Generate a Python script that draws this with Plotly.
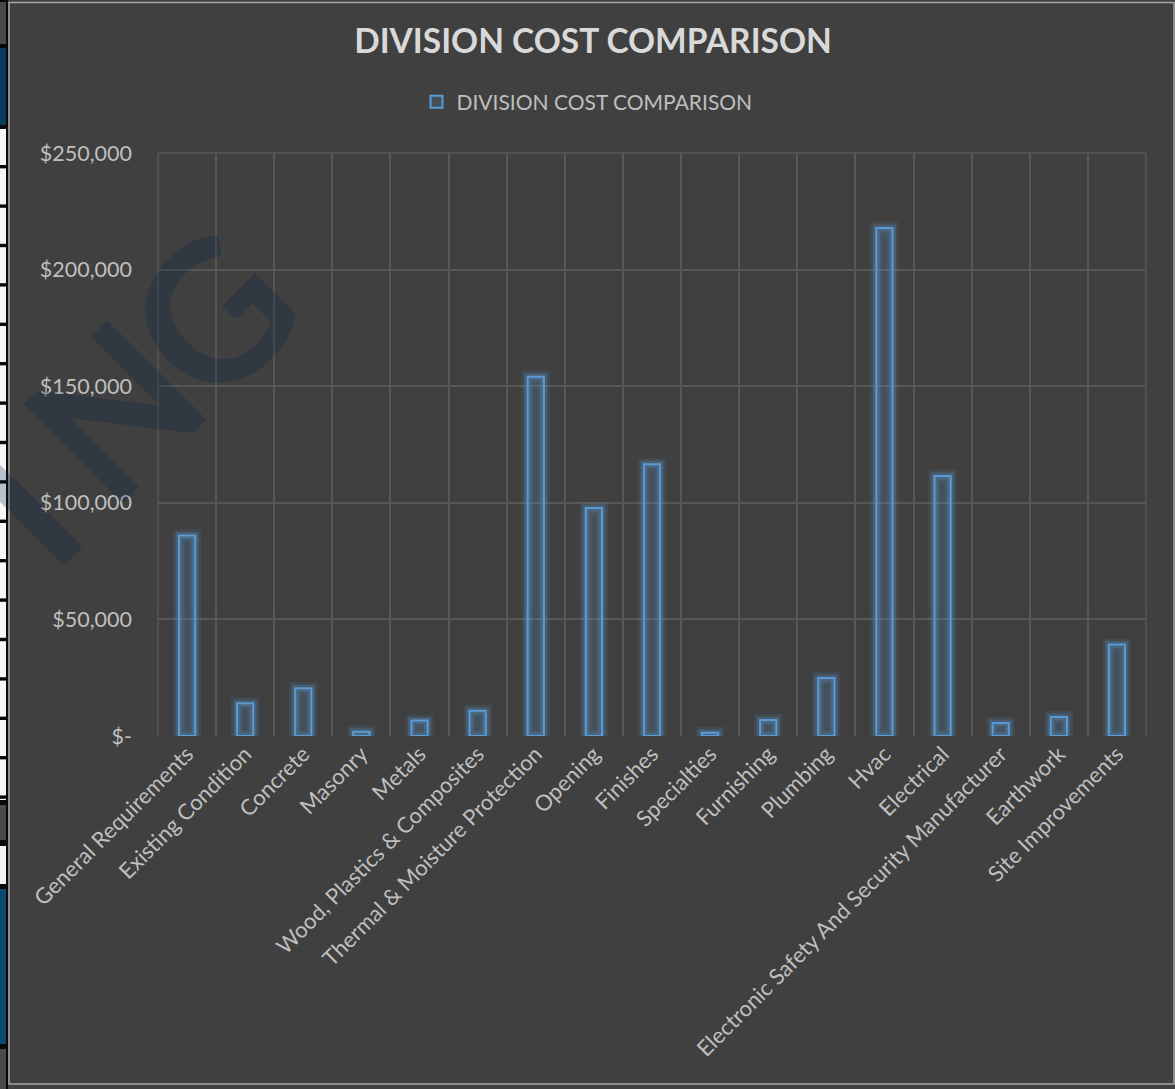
import plotly.graph_objects as go

categories = [
    "General Requirements", "Existing Condition", "Concrete", "Masonry", "Metals",
    "Wood, Plastics & Composites", "Thermal & Moisture Protection", "Opening",
    "Finishes", "Specialties", "Furnishing", "Plumbing", "Hvac", "Electrical",
    "Electronic Safety And Security Manufacturer", "Earthwork", "Site Improvements",
]
costs = [86000, 14000, 20500, 1800, 6600, 10800, 154000, 97800, 116500,
         1400, 6900, 24900, 217800, 111500, 5600, 8200, 39200]
y_tickvals = [0, 50000, 100000, 150000, 200000, 250000]
y_ticktext = ["$-", "$50,000", "$100,000", "$150,000", "$200,000", "$250,000"]
series_name = "DIVISION COST COMPARISON"
watermark_letters = ["I", "N", "G"]

W, H = 1175, 1089
L, R, T, B = 158, 1146, 153, 736

FONT = "Lato"
BLUE = "#5B9BD5"
GRID = "#575757"
BG = "#404040"

fig = go.Figure()
# glow layers
for w, a in [(12, 0.12), (7, 0.24)]:
    fig.add_trace(go.Bar(
        x=categories, y=costs, width=0.28, showlegend=False, hoverinfo="skip",
        marker=dict(color="rgba(91,155,213,0)",
                    line=dict(color=f"rgba(91,155,213,{a})", width=w)),
    ))
fig.add_trace(go.Bar(
    x=categories, y=costs, width=0.28, name=series_name,
    marker=dict(color="rgba(91,155,213,0.18)",
                line=dict(color=BLUE, width=2)),
))

def px_x(p):
    return (p - L) / (R - L)

def px_y(p):
    return (B - p) / (B - T)

n = len(categories)
shapes = []
# left spreadsheet strip
shapes.append(dict(type="rect", xref="paper", yref="paper", x0=px_x(0), x1=px_x(8),
                   y0=px_y(H), y1=px_y(0), fillcolor="#0a0a0a", line=dict(width=0),
                   layer="below"))
strip_cells = [(2, 44, "#4a4a4a"), (48, 125, "#0b3b5c"), (805, 840, "#4a4a4a"),
               (846, 884, "#f2f2f2"), (889, 1044, "#0b4a6e"), (1049, 1089, "#4a4a4a")]
for y0, y1, c in strip_cells:
    shapes.append(dict(type="rect", xref="paper", yref="paper", x0=px_x(0), x1=px_x(6),
                       y0=px_y(y1), y1=px_y(y0), fillcolor=c, line=dict(width=0),
                       layer="below"))
y = 129
while y < 800:
    shapes.append(dict(type="rect", xref="paper", yref="paper", x0=px_x(0), x1=px_x(6),
                       y0=px_y(min(y + 36, 800)), y1=px_y(y), fillcolor="#f7f7f7",
                       line=dict(width=0), layer="below"))
    y += 39.4
# chart border
shapes.append(dict(type="rect", xref="paper", yref="paper", x0=px_x(9), x1=px_x(1174),
                   y0=px_y(1084), y1=px_y(2.5), fillcolor="rgba(0,0,0,0)",
                   line=dict(color="#a6a6a6", width=1.5), layer="below"))
# plot-area frame (left, right, top)
shapes += [
    dict(type="line", xref="paper", yref="paper", x0=0, x1=0, y0=0, y1=1,
         line=dict(color=GRID, width=1.5), layer="below"),
    dict(type="line", xref="paper", yref="paper", x0=1, x1=1, y0=0, y1=1,
         line=dict(color=GRID, width=1.5), layer="below"),
    dict(type="line", xref="paper", yref="paper", x0=0, x1=1, y0=1, y1=1,
         line=dict(color=GRID, width=1.5), layer="below"),
]
# gridline fade toward the bottom
shapes += [
    dict(type="rect", xref="paper", yref="y", x0=0.001, x1=0.999, y0=0, y1=102000,
         fillcolor=BG, opacity=0.5, line=dict(width=0), layer="between"),
    dict(type="rect", xref="paper", yref="y", x0=0.001, x1=0.999, y0=0, y1=55000,
         fillcolor=BG, opacity=0.35, line=dict(width=0), layer="between"),
]

# watermark letters (background of the source sheet)
wm_pos = [(20, 503), (111, 409), (209, 313)]
annotations = [dict(
    text=f"<b>{ch}</b>", xref="paper", yref="paper",
    x=px_x(px), y=px_y(py), xanchor="center", yanchor="middle",
    textangle=-45, showarrow=False,
    font=dict(family=FONT, size=194, color="rgba(0,30,70,0.25)"),
) for ch, (px, py) in zip(watermark_letters, wm_pos)]

fig.update_layout(
    width=W, height=H,
    paper_bgcolor=BG, plot_bgcolor=BG,
    margin=dict(l=L, r=W - R, t=T, b=H - B, pad=0),
    barmode="overlay",
    title=dict(text="<b>DIVISION COST COMPARISON</b>", x=px_x(593), xanchor="center",
               xref="paper", y=1 - 41 / H, yanchor="middle",
               font=dict(family=FONT, size=33.5, color="#d9d9d9")),
    showlegend=True,
    legend=dict(orientation="h", x=px_x(587), xanchor="center",
                y=px_y(102), yanchor="middle", bgcolor="rgba(0,0,0,0)",
                font=dict(family=FONT, size=21, color="#bfbfbf"),
                itemwidth=30),
    font=dict(family=FONT, color="#bfbfbf"),
    shapes=shapes,
    annotations=annotations,
)
fig.update_xaxes(
    type="category", showgrid=False, tickangle=-45,
    tickfont=dict(family=FONT, size=22, color="#bfbfbf"),
    ticks="", showline=False, zeroline=False,
    range=[-0.5, n - 0.5],
)
fig.update_layout(xaxis2=dict(overlaying="x", range=[-0.5, n - 0.5],
                              tickvals=[i + 0.5 for i in range(n - 1)],
                              showticklabels=False, showgrid=True, gridcolor=GRID,
                              gridwidth=1.5, zeroline=False, side="top", ticks=""))
fig.add_trace(go.Scatter(x=[0], y=[0], xaxis="x2", mode="markers",
                         marker=dict(opacity=0), showlegend=False, hoverinfo="skip"))
fig.update_yaxes(
    range=[0, 250000], tickvals=y_tickvals, ticktext=y_ticktext,
    showgrid=True, gridcolor=GRID, gridwidth=1.5, zeroline=False,
    tickfont=dict(family=FONT, size=21.5, color="#bfbfbf"), ticks="",
    ticklabelstandoff=25,
)
fig.write_html("out.html", config={"displayModeBar": False},
               post_script="document.body.style.margin='0px';"
                           "document.body.style.overflow='hidden';")
